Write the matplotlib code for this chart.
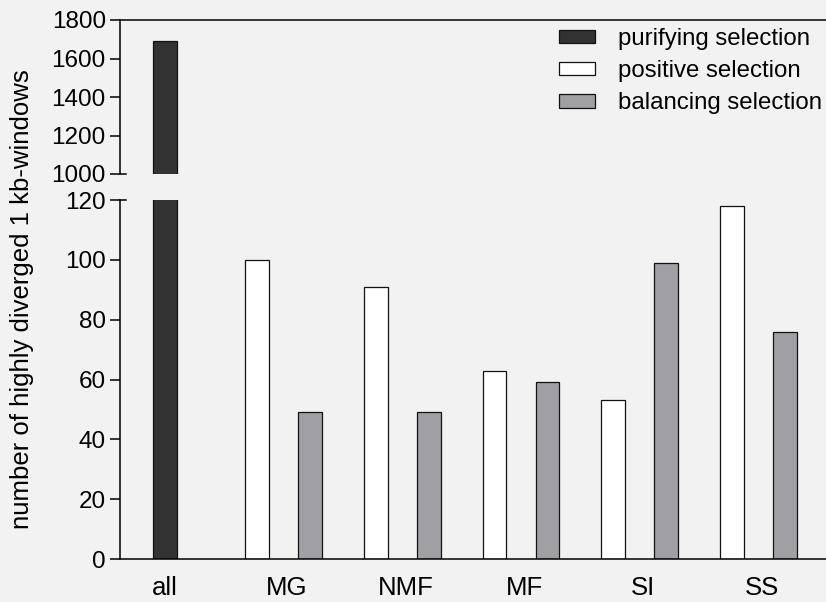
import numpy as np
import matplotlib
matplotlib.use('Agg')
import matplotlib.pyplot as plt
from matplotlib.patches import Patch

plt.rcParams['font.family'] = ['Liberation Sans', 'DejaVu Sans']

groups = ['MG', 'NMF', 'MF', 'SI', 'SS']
positive = [100, 91, 63, 53, 118]
balancing = [49, 49, 59, 99, 76]
purifying_all = 1690

bg = '#f2f2f2'
dark = '#333333'
grey = '#a09fa4'
edge = '#111111'

fig = plt.figure(figsize=(8.26, 6.02), dpi=100, facecolor=bg)
W, H = 826, 602
left, right = 120 / W, 1.0
ax_low = fig.add_axes([left, 1 - 559 / H, right - left, (559 - 200) / H])
ax_top = fig.add_axes([left, 1 - 174 / H, right - left, (174 - 20) / H])

x = np.arange(len(groups))
x_all = -0.775
off = 0.446
w = 0.2

for ax in (ax_low, ax_top):
    ax.set_facecolor(bg)
    ax.bar(x_all, purifying_all, w, color=dark, edgecolor=edge, linewidth=0.9)
    ax.bar(x, positive, w, color='white', edgecolor=edge, linewidth=0.9)
    ax.bar(x + off, balancing, w, color=grey, edgecolor=edge, linewidth=0.9)
    ax.set_xlim(-1.153, 4.79)
    ax.spines['right'].set_visible(False)
    for s in ax.spines.values():
        s.set_linewidth(1.1)
    ax.tick_params(axis='y', direction='out', length=7.2, width=1.1, labelsize=17.5, pad=3)

ax_low.set_ylim(0, 120)
ax_low.set_yticks(range(0, 121, 20))
ax_low.spines['top'].set_visible(False)
ax_low.set_xticks([x_all] + list(x + off / 2 + 0.03))
ax_low.set_xticklabels(['all'] + groups, fontsize=18.5)
ax_low.tick_params(axis='x', length=0, pad=12)

ax_top.set_ylim(1000, 1800)
ax_top.set_yticks(range(1000, 1801, 200))
ax_top.spines['bottom'].set_visible(False)
ax_top.set_xticks([])

# break marks crossing the left spine
inner = 6 / (W * (right - left))
for ax, yy in ((ax_top, 0), (ax_low, 1)):
    ax.plot([0, inner], [yy, yy], color='black', lw=1.1, transform=ax.transAxes, clip_on=False)

fig.text(22 / W, 1 - 299 / H, 'number of highly diverged 1 kb-windows', rotation=90,
         ha='center', va='center', fontsize=18.5)

handles = [Patch(facecolor=dark, edgecolor=edge, linewidth=0.9),
           Patch(facecolor='white', edgecolor=edge, linewidth=0.9),
           Patch(facecolor=grey, edgecolor=edge, linewidth=0.9)]
fig.legend(handles, ['purifying selection', 'positive selection', 'balancing selection'],
           loc='upper left', bbox_to_anchor=(559 / W, 1 - 28 / H), frameon=False,
           fontsize=17.3, handlelength=1.5, handleheight=0.5, handletextpad=0.96,
           labelspacing=0.42, borderpad=0, borderaxespad=0)

fig.savefig('out.png', dpi=100, facecolor=bg)
